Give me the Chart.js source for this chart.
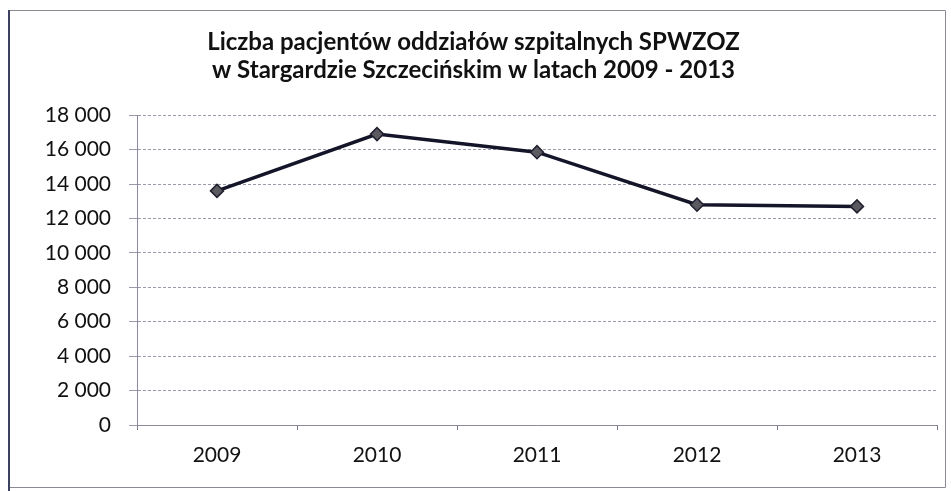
<!DOCTYPE html>
<html>
<head>
<meta charset="utf-8">
<script src="https://cdn.jsdelivr.net/npm/chart.js@4.4.1/dist/chart.umd.min.js"></script>
<style>
  html, body { margin: 0; padding: 0; background: #ffffff; }
  #wrap { position: relative; width: 951px; height: 491px; }
</style>
</head>
<body>
<div id="wrap"><canvas id="c" width="951" height="491"></canvas></div>
<script>
const titleLines = ['Liczba pacjentów oddziałów szpitalnych SPWZOZ', 'w Stargardzie Szczecińskim w latach 2009 - 2013'];
const years = ['2009', '2010', '2011', '2012', '2013'];
const patients = [13600, 16900, 15850, 12800, 12700];
const yMin = 0;
const yMax = 18000;
const yStep = 2000;

function fmt(v) {
  return String(v).replace(/\B(?=(\d{3})+(?!\d))/g, ' ');
}

const framePlugin = {
  id: 'frame',
  beforeDraw(chart) {
    const ctx = chart.ctx;
    ctx.save();
    ctx.strokeStyle = '#8a8a95';
    ctx.lineWidth = 1;
    ctx.beginPath();
    ctx.moveTo(8.5, 10.5); ctx.lineTo(945.5, 10.5);
    ctx.moveTo(945.5, 10.5); ctx.lineTo(945.5, 487.5);
    ctx.moveTo(8.5, 487.5); ctx.lineTo(945.5, 487.5);
    ctx.stroke();
    ctx.strokeStyle = '#3d4160';
    ctx.lineWidth = 2;
    ctx.beginPath();
    ctx.moveTo(9, 10); ctx.lineTo(9, 491);
    ctx.stroke();
    ctx.restore();
  }
};

new Chart(document.getElementById('c'), {
  type: 'line',
  data: {
    labels: years,
    datasets: [{
      data: patients,
      borderColor: '#15152a',
      borderWidth: 3.5,
      tension: 0,
      pointStyle: 'rectRot',
      pointRadius: 6.5,
      pointBackgroundColor: '#5a5a60',
      pointBorderColor: '#202030',
      pointBorderWidth: 1.5
    }]
  },
  options: {
    responsive: false,
    animation: false,
    layout: { padding: { left: 10, right: 14, top: 12, bottom: 0 } },
    plugins: {
      legend: { display: false },
      tooltip: { enabled: false },
      title: {
        display: true,
        text: titleLines,
        color: '#111111',
        font: { family: 'Lato', size: 24, weight: 'bold', lineHeight: 1.17 },
        padding: { top: 16, bottom: 31 }
      }
    },
    scales: {
      x: {
        offset: true,
        grid: {
          offset: true,
          drawOnChartArea: false,
          drawTicks: true,
          tickLength: 5,
          color: '#7a7a8a'
        },
        border: { display: true, color: '#8a8a9a', width: 1 },
        ticks: {
          color: '#111111',
          font: { family: 'Lato', size: 21 },
          padding: 13,
          maxRotation: 0
        },
        afterFit(scale) { scale.height = 66; }
      },
      y: {
        min: yMin,
        max: yMax,
        grid: {
          color: '#9a9aa8',
          lineWidth: 1,
          tickLength: 8,
          drawTicks: true
        },
        border: { display: true, color: '#8a8aa8', width: 1, dash: [3, 2] },
        ticks: {
          stepSize: yStep,
          color: '#111111',
          font: { family: 'Lato', size: 21 },
          padding: 18,
          callback: (v) => fmt(v)
        },
        afterFit(scale) { scale.width = 127; }
      }
    }
  },
  plugins: [framePlugin]
});
</script>
</body>
</html>
